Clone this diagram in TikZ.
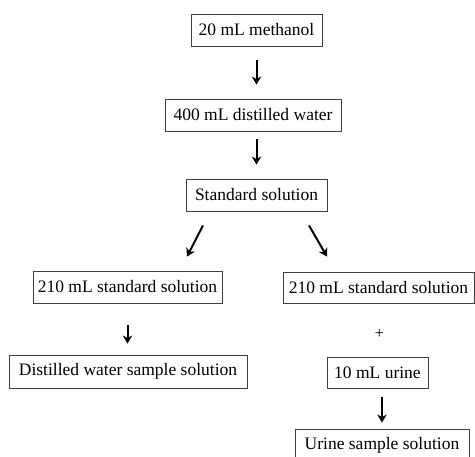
\documentclass[tikz,border=0pt]{standalone}
\usepackage{fontspec}
\setmainfont{Liberation Serif}
\usetikzlibrary{arrows.meta}
\begin{document}
\begin{tikzpicture}[x=1pt,y=-1pt,
  box/.style={draw=black!75,line width=0.9pt,inner sep=0pt,font=\fontsize{17.5}{20}\selectfont},
  arr/.style={line width=2pt,-{Stealth[length=8pt,width=9.5pt,inset=2.5pt]}}]
\useasboundingbox (0,0) rectangle (475,457);
\clip (0,0) rectangle (475,457);
\node[box,minimum width=131pt,minimum height=32pt] (b1) at (256.5,30) {20 mL methanol};
\node[box,minimum width=176pt,minimum height=32pt] (b2) at (253,115) {400 mL distilled water};
\node[box,minimum width=141pt,minimum height=32pt] (b3) at (256.5,195) {Standard solution};
\node[box,minimum width=189pt,minimum height=32pt] (b4) at (127.5,287) {210 mL standard solution};
\node[box,minimum width=238pt,minimum height=33pt] (b5) at (128,371.5) {Distilled water sample solution};
\node[box,minimum width=191pt,minimum height=31pt] (b6) at (378.5,287.5) {210 mL standard solution};
\node[font=\fontsize{16}{18}\selectfont] (plus) at (379.5,334) {+};
\node[box,minimum width=101pt,minimum height=31pt] (b7) at (377.5,372.5) {10 mL urine};
\node[box,minimum width=174pt,minimum height=33pt] (b8) at (382,445.5) {Urine sample solution};
\draw[arr,shorten <=14pt,shorten >=14pt] (b1.south) -- (b1.south |- b2.north);
\draw[arr,shorten <=8pt,shorten >=14pt] (b2.south -| b1.south) -- (b1.south |- b3.north);
\draw[arr] ([xshift=-53.5pt,yshift=-14pt]b3.south) -- ([xshift=59.5pt,yshift=14pt]b4.north);
\draw[arr] ([xshift=52.5pt,yshift=-14pt]b3.south) -- ([xshift=-51.5pt,yshift=15pt]b6.north);
\draw[arr,shorten <=22pt,shorten >=11pt] (b4.south) -- (b4.south |- b5.north);
\draw[arr,shorten <=9pt,shorten >=6pt] (b7.south -| b8.north) -- (b8.north);
\end{tikzpicture}
\end{document}
